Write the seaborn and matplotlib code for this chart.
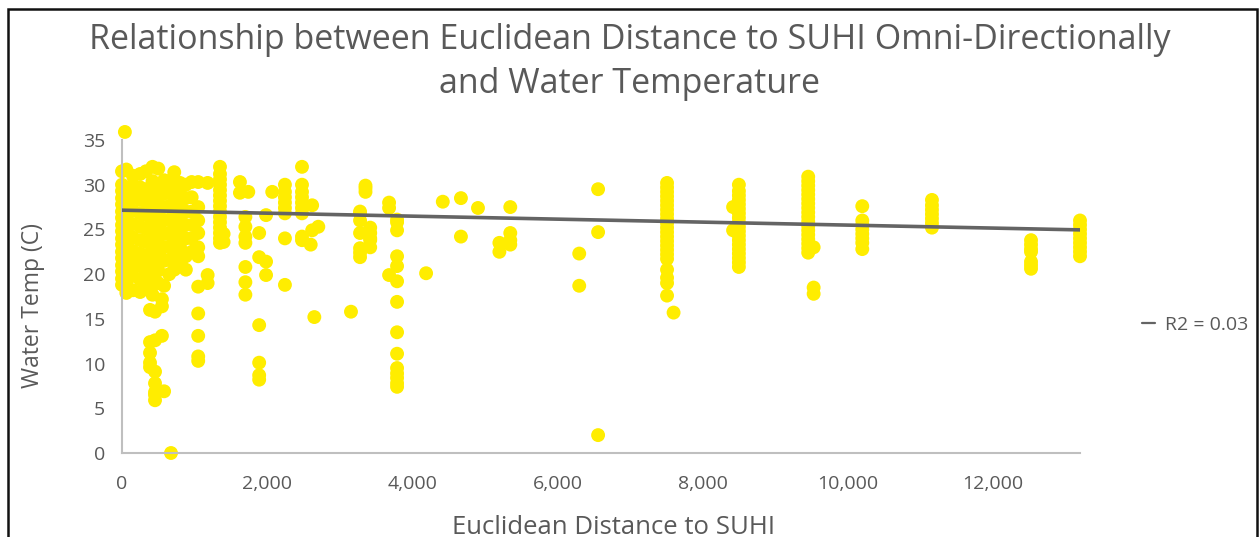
import pandas as pd
import seaborn as sns
from matplotlib import pyplot as plt
from matplotlib.patches import Rectangle
from matplotlib.lines import Line2D
from matplotlib.ticker import FuncFormatter

# distance columns (m) and the water temps
col_dist = [0, 40, 60, 150, 250, 330, 386, 420, 455, 500, 550, 580, 650, 675,
            720, 800, 880, 960, 1050, 1180, 1350, 1400, 1625, 1700, 1740, 1890,
            1985, 2070, 2245, 2480, 2600, 2620, 2650, 2705, 3155, 3280, 3355,
            3420, 3680, 3790, 4190, 4420, 4670, 4905, 5200, 5350, 6300, 6560,
            7510, 7600, 8420, 8500, 9455, 9530, 10200, 11160, 12525, 13200]
col_temps = [
    [18.8, 19.5, 20.3, 21.0, 21.8, 22.5, 23.3, 24.0, 24.8, 25.5, 26.3, 27.0, 27.8, 28.5, 29.3, 30.0, 31.5],
    [35.9],
    [17.9, 19.0, 20.5, 22.0, 23.5, 25.0, 26.5, 28.0, 29.5, 31.7],
    [18.2, 19.8, 21.2, 22.6, 24.1, 25.6, 27.1, 28.6, 30.0, 31.0],
    [18.0, 19.4, 20.9, 22.3, 23.8, 25.3, 26.8, 28.3, 29.7, 31.2],
    [19.2, 20.6, 22.1, 23.6, 25.1, 26.6, 28.1, 29.5, 31.5],
    [9.6, 10.1, 11.2, 12.4, 16.0, 18.2],
    [17.7, 20.0, 21.5, 23.0, 24.5, 26.0, 27.5, 29.0, 30.4, 32.0],
    [5.9, 6.5, 6.8, 7.8, 9.1, 12.6, 15.8],
    [19.0, 20.4, 21.9, 23.4, 24.9, 26.4, 27.9, 29.4, 31.8],
    [13.1, 16.4, 17.2],
    [6.9, 18.7, 21.5, 23.0, 24.5, 26.0, 27.5, 29.0, 30.5],
    [20.0, 21.6, 23.1, 24.6, 26.1, 27.6, 29.1, 30.4],
    [0.0],
    [20.5, 22.2, 23.7, 25.2, 26.7, 28.2, 29.6, 31.4],
    [21.5, 23.0, 24.5, 26.0, 27.5, 29.0, 30.2],
    [20.5, 22.0, 24.0, 25.5, 27.0, 28.5, 30.0],
    [22.5, 24.0, 25.5, 27.0, 28.6, 30.3],
    [10.3, 10.8, 13.1, 15.6, 18.6, 22.0, 23.0, 24.6, 26.0, 27.5, 30.3],
    [19.0, 19.9, 30.2],
    [23.5, 24.0, 24.6, 25.2, 25.8, 26.4, 27.0, 27.6, 28.2, 28.8, 29.4, 30.0, 30.6, 31.2, 32.0],
    [23.6, 24.5],
    [29.1, 30.3],
    [17.7, 19.1, 20.8, 23.5, 24.2, 25.3, 26.4],
    [29.2],
    [8.2, 8.7, 10.1, 14.3, 21.9, 24.6],
    [19.9, 21.4, 26.6],
    [29.2],
    [18.8, 24.0, 26.8, 27.4, 28.0, 28.6, 29.2, 30.0],
    [23.8, 24.2, 26.8, 27.4, 28.0, 28.6, 29.2, 30.0, 32.0],
    [23.3],
    [24.9, 27.7],
    [15.2],
    [25.3],
    [15.8],
    [21.9, 22.4, 22.9, 24.6, 26.0, 26.8, 27.0],
    [29.2, 29.6, 29.9],
    [23.0, 23.8, 24.0, 24.6, 25.2],
    [19.9, 27.4, 28.0],
    [7.4, 7.8, 8.4, 8.9, 9.5, 11.1, 13.5, 16.9, 19.2, 20.9, 22.0, 24.9, 25.8, 26.1],
    [20.1],
    [28.1],
    [24.2, 28.5],
    [27.4],
    [22.5, 23.5],
    [23.3, 23.8, 24.6, 27.5],
    [18.7, 22.3],
    [2.0, 24.7, 29.5],
    [17.6, 19.0, 19.6, 20.5, 21.7, 22.2, 22.7, 23.2, 23.7, 24.2, 24.7, 25.2, 25.7, 26.2,
     26.7, 27.2, 27.7, 28.2, 28.7, 29.2, 29.7, 30.2],
    [15.7],
    [24.9, 27.5],
    [20.8, 21.3, 21.8, 22.3, 22.8, 23.3, 23.8, 24.3, 24.8, 25.3, 25.8, 26.3, 26.8, 27.3,
     27.8, 28.3, 28.8, 29.3, 30.0],
    [22.4, 22.9, 23.4, 23.9, 24.4, 24.9, 25.4, 25.9, 26.4, 26.9, 27.4, 27.9, 28.4, 28.9,
     29.4, 29.9, 30.4, 30.9],
    [17.8, 18.5, 23.0],
    [22.8, 23.5, 24.0, 24.5, 25.0, 25.5, 26.0, 27.6],
    [25.2, 25.7, 26.2, 26.7, 27.2, 27.7, 28.3],
    [20.6, 21.0, 21.4, 22.5, 22.8, 23.3, 23.8],
    [22.0, 22.5, 23.0, 23.5, 24.0, 24.5, 25.0, 25.5, 26.0],
]

# linear trend as drawn
trend_dist = [0, 13200]
trend_temp = [27.15, 24.95]
r2_label = "R2 = 0.03"

rows = []
for d, temps in zip(col_dist, col_temps):
    for t in temps:
        rows.append((d, t))
df = pd.DataFrame(rows, columns=["dist", "temp"])

sns.set_style("white")
plt.rcParams['font.family'] = ['Open Sans', 'DejaVu Sans']
txt = '#595959'
axis_c = '#BFBFBF'

fig = plt.figure(figsize=(12.59, 5.37), dpi=100)
ax = fig.add_axes([122/1259, 1-453/537, 958/1259, 313/537])

sns.scatterplot(data=df, x="dist", y="temp", ax=ax, s=100, color='#FFED00',
                edgecolor='none', linewidth=0, clip_on=False, zorder=2)
sns.lineplot(x=trend_dist, y=trend_temp, ax=ax, color='#646464', lw=2.6,
             legend=False, zorder=3)

ax.set_xlim(0, 13200)
ax.set_ylim(0, 35)
ax.set_xticks(range(0, 13000, 2000))
ax.set_yticks(range(0, 36, 5))
ax.xaxis.set_major_formatter(FuncFormatter(lambda v, p: f"{int(v):,}"))
ax.set_xlabel("")
ax.set_ylabel("")
for s in ["top", "right"]:
    ax.spines[s].set_visible(False)
for s in ["left", "bottom"]:
    ax.spines[s].set_color(axis_c)
    ax.spines[s].set_linewidth(1.5)
ax.tick_params(axis='both', colors=axis_c, labelcolor=txt, labelsize=14,
               length=6, width=1.3, direction='out')
ax.tick_params(axis='y', pad=6)
ax.tick_params(axis='x', pad=10)

handle = Line2D([], [], color='#646464', lw=1.6)
fig.legend([handle], [r2_label], loc='center left', bbox_to_anchor=(1124/1259, 1-325/537),
           frameon=False, handlelength=0.7, handletextpad=0.5, fontsize=14,
           labelcolor=txt)

fig.text(0.5, 1-23/537, "Relationship between Euclidean Distance to SUHI Omni-Directionally\nand Water Temperature",
         ha='center', va='top', fontsize=24.5, color=txt, linespacing=1.38)
fig.text(614/1259, 1-527/537, "Euclidean Distance to SUHI", ha='center', va='center',
         fontsize=18.5, color=txt)
fig.text(33/1259, 1-305/537, "Water Temp (C)", ha='center', va='center',
         rotation=90, fontsize=16.5, color=txt)

fig.patches.append(Rectangle((8/1259, -0.1), 1249/1259, 1.1-9/537, transform=fig.transFigure,
                             fill=False, edgecolor='#111111', lw=1.8))

fig.savefig("out.png", dpi=100)
